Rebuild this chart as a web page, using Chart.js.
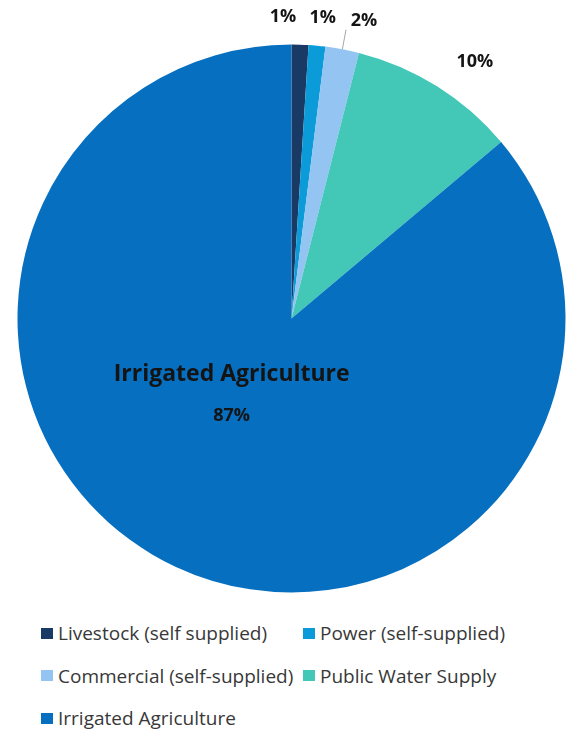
<!DOCTYPE html>
<html>
<head>
<meta charset="utf-8">
<script src="https://cdn.jsdelivr.net/npm/chart.js@4"></script>
<style>
    html, body { margin: 0; padding: 0; background: #fff; }
    #wrap { position: relative; width: 569px; height: 600px; }
    #legend {
        display: grid;
        grid-template-columns: 262px 260px;
        row-gap: 0;
        margin-left: 41px;
        margin-top: 12px;
        font-family: 'Open Sans', sans-serif;
        font-size: 19px;
        color: #383838;
    }
    .item { display: flex; align-items: center; height: 42.5px; white-space: nowrap; }
    .box { width: 12px; height: 11px; margin-right: 5px; flex: none; }
</style>
</head>
<body>
<div id="wrap"><canvas id="pie"></canvas></div>
<div id="legend"></div>
<script>
const categories = [
    'Livestock (self supplied)',
    'Power (self-supplied)',
    'Commercial (self-supplied)',
    'Public Water Supply',
    'Irrigated Agriculture'
];
const shares = [1, 1, 2, 10, 87];
const sliceColors = ['#1a3a66', '#0c9bd9', '#93c4f2', '#43c8b8', '#066fc0'];

// where each percentage label sits: angle shift (deg) and distance from the rim
const labelShift = [-3.4, 0.6, 3, 3.5, 13];
const labelPad = [28, 28, 32, 41, null];

const pctLabels = {
    id: 'pctLabels',
    afterDatasetsDraw(chart) {
        const ctx = chart.ctx;
        const meta = chart.getDatasetMeta(0);
        ctx.save();
        ctx.textAlign = 'center';
        ctx.textBaseline = 'middle';
        ctx.fillStyle = '#141414';
        meta.data.forEach((arc, i) => {
            const p = arc.getProps(['x', 'y', 'startAngle', 'endAngle', 'outerRadius']);
            const mid = (p.startAngle + p.endAngle) / 2;
            const a = mid + labelShift[i] * Math.PI / 180;
            const text = shares[i] + '%';
            if (labelPad[i] === null) {
                const d = p.outerRadius * 0.355;
                const x = p.x + Math.cos(a) * d;
                const y = p.y + Math.sin(a) * d;
                ctx.font = 'bold 23px "Open Sans", sans-serif';
                ctx.fillText(categories[i], x, y - 21);
                ctx.font = 'bold 18px "Open Sans", sans-serif';
                ctx.fillText(text, x, y + 21);
                return;
            }
            const d = p.outerRadius + labelPad[i];
            ctx.font = 'bold 18px "Open Sans", sans-serif';
            ctx.fillText(text, p.x + Math.cos(a) * d, p.y + Math.sin(a) * d);
            if (i === 2) {
                // leader line for the small commercial slice
                ctx.strokeStyle = '#a6a6a6';
                ctx.lineWidth = 1;
                ctx.beginPath();
                ctx.moveTo(p.x + Math.cos(mid) * p.outerRadius, p.y + Math.sin(mid) * p.outerRadius);
                ctx.lineTo(p.x + Math.cos(mid) * (p.outerRadius + 20), p.y + Math.sin(mid) * (p.outerRadius + 20));
                ctx.stroke();
            }
        });
        ctx.restore();
    }
};

const chart = new Chart(document.getElementById('pie'), {
    type: 'pie',
    data: {
        labels: categories,
        datasets: [{
            data: shares,
            backgroundColor: sliceColors,
            borderWidth: 0
        }]
    },
    options: {
        responsive: true,
        maintainAspectRatio: false,
        animation: false,
        layout: { padding: { left: 17.5, right: 3.5, top: 44.5, bottom: 7.5 } },
        plugins: {
            legend: { display: false },
            tooltip: { enabled: false }
        }
    },
    plugins: [pctLabels]
});

// legend in two columns, like the original
const legendBox = document.getElementById('legend');
chart.options.plugins.legend.labels.generateLabels(chart).forEach(item => {
    const row = document.createElement('div');
    row.className = 'item';
    row.innerHTML = `<span class="box" style="background:${item.fillStyle}"></span><span>${item.text}</span>`;
    legendBox.appendChild(row);
});
</script>
</body>
</html>
